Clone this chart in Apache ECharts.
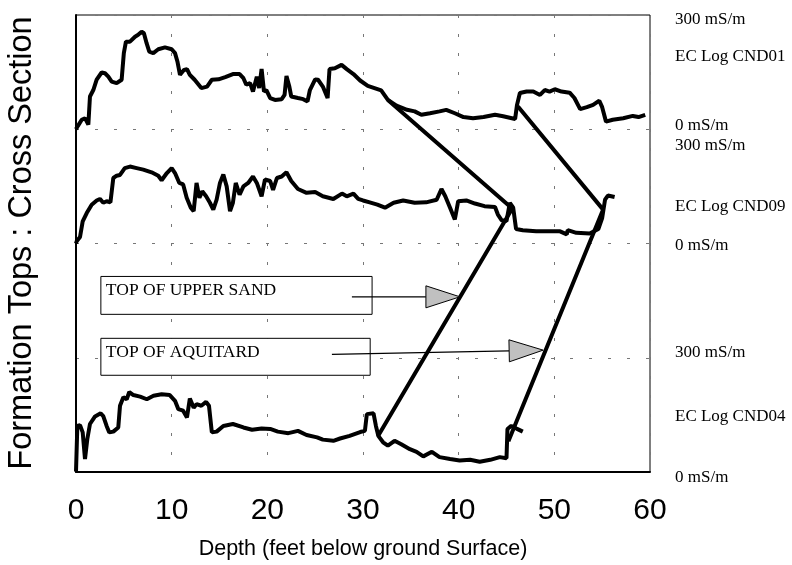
<!DOCTYPE html>
<html>
<head>
<meta charset="utf-8">
<script src="https://cdn.jsdelivr.net/npm/echarts@6/dist/echarts.min.js"></script>
<style>
  html, body { margin: 0; padding: 0; background: #fff; }
  #chart { width: 792px; height: 565px; }
</style>
</head>
<body>
<div id="chart"></div>
<script>
// depth in feet, EC in mS/m (0..300 per track)
const depthTicks = [0, 10, 20, 30, 40, 50, 60];
const logNames = ['EC Log CND01', 'EC Log CND09', 'EC Log CND04'];
const logOffsets = [900, 600, 0]; // baseline of each track on the stacked axis
const scaleLabels = ['300 mS/m', '0 mS/m'];

const cnd01 = [[0,0],[0.2,9],[0.6,25],[0.94,29],[1.29,12],[1.46,86],[1.81,103],[2.16,130],[2.68,149],[3.03,147],[3.38,138],[3.73,125],[4.25,121],[4.77,130],[5.0,200],[5.22,230],[5.64,230],[6.17,243],[6.5,248],[6.86,256],[7.1,252],[7.38,226],[7.66,204],[8.08,200],[8.6,210],[9.3,215],[10.0,210],[10.35,200],[10.6,178],[10.87,143],[11.3,156],[11.6,158],[11.9,143],[12.4,130],[13.1,108],[13.7,112],[14.2,130],[14.9,131],[15.6,137],[16.4,145],[17.1,145],[17.5,134],[17.8,117],[18.2,121],[18.5,99],[18.9,138],[19.15,108],[19.4,158],[19.65,99],[19.9,103],[20.3,82],[20.8,77],[21.5,79],[21.8,90],[22.0,140],[22.3,112],[22.5,86],[23.2,82],[23.75,79],[24.2,73],[24.45,103],[25.0,131],[25.3,130],[25.8,112],[26.3,82],[26.5,158],[27.06,160],[27.76,169],[28.3,158],[29.0,145],[29.7,128],[30.5,114],[31.2,108],[31.9,102],[32.6,77],[33.5,62],[34.6,51],[35.4,47],[36.1,38],[37.0,42],[38.0,47],[38.7,51],[39.6,42],[40.5,32],[41.5,29],[42.6,32],[43.8,38],[44.65,34],[45.9,27],[46.1,64],[46.4,95],[47.1,99],[47.8,99],[48.5,90],[49.0,103],[49.5,99],[50.05,105],[50.75,99],[51.6,96],[52.1,82],[52.7,53],[53.4,58],[54.05,64],[54.7,75],[55.0,58],[55.4,20],[56.1,25],[57.2,29],[58.2,35],[58.8,32],[59.5,38]];

const cnd09 = [[0,0],[0.07,6],[0.42,17],[0.7,58],[1.12,80],[1.64,102],[2.16,113],[2.5,117],[2.85,107],[3.2,111],[3.6,108],[3.9,172],[4.25,178],[4.6,180],[5.1,198],[5.64,202],[6.34,198],[7.03,194],[7.9,187],[8.6,178],[8.95,166],[9.5,185],[10.0,198],[10.35,185],[10.8,159],[11.2,155],[11.57,120],[12.0,94],[12.3,85],[12.6,159],[12.9,120],[13.2,137],[13.6,124],[14.0,107],[14.35,89],[14.7,115],[15.05,159],[15.4,181],[15.75,150],[16.1,85],[16.4,107],[16.7,159],[17.1,128],[17.5,150],[18.0,159],[18.5,176],[18.9,159],[19.4,124],[19.75,168],[20.3,164],[20.6,141],[21.0,172],[21.5,176],[22.0,187],[22.5,164],[23.2,143],[24.1,133],[25.0,135],[25.8,124],[26.9,117],[27.8,131],[28.3,124],[29.0,131],[29.5,117],[30.0,113],[30.7,108],[31.5,102],[32.3,94],[33.2,107],[34.2,113],[35.4,107],[36.6,108],[37.7,115],[38.2,143],[38.6,124],[39.1,94],[39.6,63],[39.95,111],[40.8,113],[41.7,105],[42.7,98],[43.8,96],[44.1,76],[44.5,61],[45.0,59],[45.35,107],[45.7,94],[46.0,38],[46.7,35],[48.1,32],[49.5,32],[50.6,32],[51.3,24],[51.4,35],[52.3,28],[53.7,26],[54.6,38],[55.0,67],[55.3,115],[55.6,126],[56.3,122]];

const cnd04 = [[0,1],[0.14,121],[0.42,123],[0.7,104],[0.94,34],[1.18,86],[1.46,126],[1.99,146],[2.58,154],[2.85,147],[3.2,121],[3.48,104],[3.9,106],[4.42,117],[4.6,174],[4.95,196],[5.3,191],[5.57,210],[6.0,202],[6.7,198],[7.4,191],[8.1,200],[8.95,204],[9.8,202],[10.35,187],[10.7,165],[11.2,161],[11.6,143],[11.9,193],[12.3,169],[12.6,178],[13.1,174],[13.6,184],[13.9,174],[14.2,104],[14.7,106],[15.4,121],[16.4,126],[17.5,117],[18.4,111],[19.4,114],[20.3,113],[21.1,106],[22.2,102],[23.2,108],[24.1,97],[25.2,91],[25.8,85],[26.9,82],[27.6,88],[28.6,95],[29.7,105],[30.2,108],[30.4,152],[31.1,154],[31.35,121],[31.6,95],[32.1,78],[32.6,69],[33.3,82],[34.0,73],[34.9,60],[35.6,53],[36.3,41],[37.2,53],[38.0,39],[39.1,34],[40.1,30],[41.2,32],[42.2,27],[43.3,32],[44.3,39],[45.0,36],[45.1,113],[45.5,121],[46.05,114],[46.7,106]];

// formation tops picked on each log: [depth, EC] on CND01, CND09, CND04
const topUpperSand = [[32.6, 77], [45.6, 92], [31.56, 94]];
const topAquitard = [[46.2, 60], [55.1, 89], [45.2, 81]];
const topLabels = ['TOP OF UPPER SAND', 'TOP OF AQUITARD'];

const logs = [cnd01, cnd09, cnd04];

function stack(points, i) {
  return points.map(p => [p[0], p[1] + logOffsets[i]]);
}
function stackTop(points) {
  return points.map((p, i) => [p[0], p[1] + logOffsets[i]]);
}

const chart = echarts.init(document.getElementById('chart'));

const series = logs.map((pts, i) => ({
  name: logNames[i],
  type: 'line',
  data: stack(pts, i),
  showSymbol: false,
  lineStyle: { color: '#000', width: 4 },
  z: 3
}));
[topUpperSand, topAquitard].forEach((t, i) => {
  series.push({
    name: topLabels[i],
    type: 'line',
    data: stackTop(t),
    showSymbol: false,
    lineStyle: { color: '#000', width: 4 },
    z: 4
  });
});

chart.setOption({
  animation: false,
  backgroundColor: '#fff',
  grid: { left: 76, right: 142, top: 15, bottom: 92, show: true, borderColor: '#000', borderWidth: 1 },
  xAxis: {
    type: 'value',
    min: 0, max: 60, interval: 10,
    name: 'Depth (feet below ground Surface)',
    nameLocation: 'middle',
    nameGap: 66,
    nameTextStyle: { fontFamily: 'Liberation Sans', fontSize: 21.5, color: '#000' },
    axisLine: { lineStyle: { color: '#000', width: 2 } },
    axisTick: { show: false },
    axisLabel: { fontFamily: 'Liberation Sans', fontSize: 30, color: '#000', margin: 24,
      formatter: v => depthTicks.includes(v) ? String(v) : '' },
    splitLine: { show: true, lineStyle: { color: '#777', type: [3, 16], width: 1 } }
  },
  yAxis: {
    type: 'value',
    min: 0, max: 1200, interval: 300,
    axisLine: { show: true, lineStyle: { color: '#000', width: 2 } },
    axisTick: { show: false },
    axisLabel: { show: false },
    splitLine: { show: true, lineStyle: { color: '#777', type: [3, 16], width: 1 } }
  },
  series: series
});

// annotations in data coordinates
const px = p => chart.convertToPixel({ gridIndex: 0 }, p);
const boxes = [[2.6, 30.95, 414, 513.5], [2.6, 30.75, 254, 351]];
const arrows = [[[28.84, 460], [40.13, 460]], [[26.75, 309], [48.83, 320]]];
const graphics = [];

boxes.forEach((b, i) => {
  const a = px([b[0], b[3]]), c = px([b[1], b[2]]);
  graphics.push({
    type: 'rect', z: 5,
    shape: { x: a[0], y: a[1], width: c[0] - a[0], height: c[1] - a[1] },
    style: { fill: '#fff', stroke: '#000', lineWidth: 1 }
  });
  graphics.push({
    type: 'text', z: 6, x: a[0] + 5, y: a[1] + 14,
    style: { text: topLabels[i], font: '17.5px "Liberation Serif"', fill: '#000', verticalAlign: 'middle' }
  });
});

arrows.forEach(ar => {
  const s = px(ar[0]), t = px(ar[1]);
  const ang = Math.atan2(t[1] - s[1], t[0] - s[0]);
  const len = 34, half = 11;
  const bx = t[0] - len * Math.cos(ang), by = t[1] - len * Math.sin(ang);
  const nx = -Math.sin(ang) * half, ny = Math.cos(ang) * half;
  graphics.push({
    type: 'line', z: 7,
    shape: { x1: s[0], y1: s[1], x2: bx, y2: by },
    style: { stroke: '#000', lineWidth: 1.2 }
  });
  graphics.push({
    type: 'polygon', z: 7,
    shape: { points: [[t[0], t[1]], [bx + nx, by + ny], [bx - nx, by - ny]] },
    style: { fill: '#c0c0c0', stroke: '#000', lineWidth: 1 }
  });
});

// right-hand track labels
const rightY = [[20, 57, 126], [146, 207, 246], [353, 417, 478]];
rightY.forEach((ys, i) => {
  [scaleLabels[0], logNames[i], scaleLabels[1]].forEach((t, k) => {
    graphics.push({
      type: 'text', x: 675, y: ys[k],
      style: { text: t, font: '17px "Liberation Serif"', fill: '#000', verticalAlign: 'middle' }
    });
  });
});

// rotated title
graphics.push({
  type: 'text', x: 22, y: 243, rotation: Math.PI / 2,
  style: { text: 'Formation Tops : Cross Section', font: '32.5px "Liberation Sans"', fill: '#000',
    align: 'center', verticalAlign: 'middle' }
});

chart.setOption({ graphic: graphics });
</script>
</body>
</html>
